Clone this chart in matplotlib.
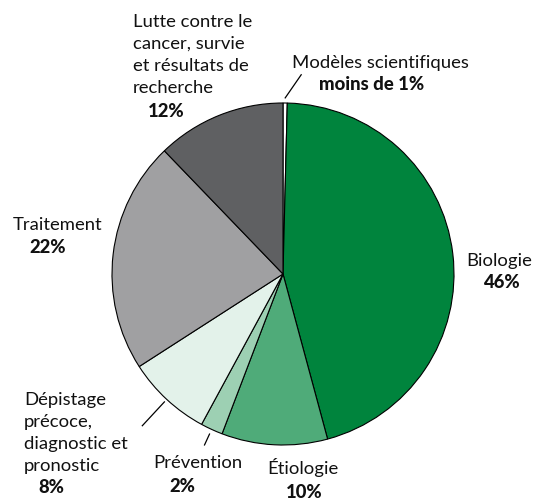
import numpy as np
import matplotlib
matplotlib.use('Agg')
import matplotlib.pyplot as plt

# Parts du financement
categories = ['Modèles scientifiques', 'Biologie', 'Étiologie', 'Prévention',
              'Dépistage précoce, diagnostic et pronostic', 'Traitement',
              'Lutte contre le cancer, survie et résultats de recherche']
parts = [0.4, 45.4, 10.0, 2.1, 8.0, 21.9, 12.2]
etiquettes_pct = ['moins de 1%', '46%', '10%', '2%', '8%', '22%', '12%']
couleurs = ['#ffffff', '#00843d', '#4fab79', '#9dd0b3', '#e3f2ea', '#a0a0a2', '#5f6062']

W, H = 542, 502
fig = plt.figure(figsize=(W / 100, H / 100), dpi=100)
# centre du camembert (283, 275) px, rayon 171 px
cx, cy, r = 283, 275, 171
ax = fig.add_axes([(cx - r) / W, (H - cy - r) / H, 2 * r / W, 2 * r / H])
wedges, _ = ax.pie(parts, colors=couleurs, startangle=90, counterclock=False,
                   radius=1, wedgeprops=dict(edgecolor='black', linewidth=0.8))
ax.set_xlim(-1, 1)
ax.set_ylim(-1, 1)
ax.set_aspect('equal')
ax.axis('off')

police = ['Lato', 'DejaVu Sans']
fs = 13.3

def texte(x, y, s, gras=False, ha='left'):
    # coordonnées en pixels depuis le coin haut-gauche
    fig.text(x / W, 1 - y / H, s, ha=ha, va='baseline', fontsize=fs,
             family=police, weight='black' if gras else 'normal', color='#111111')

# Lutte contre le cancer
for i, ligne in enumerate(['Lutte contre le', 'cancer, survie', 'et résultats de', 'recherche']):
    texte(133, 27 + 22 * i, ligne)
texte(166, 117, etiquettes_pct[6], gras=True, ha='center')

# Modèles scientifiques
texte(380, 68, 'Modèles scientifiques', ha='center')
texte(372, 90, etiquettes_pct[0], gras=True, ha='center')

# Biologie
texte(499, 266, 'Biologie', ha='center')
texte(501, 288, etiquettes_pct[1], gras=True, ha='center')

# Traitement
texte(58, 230, 'Traitement', ha='center')
texte(48, 253, etiquettes_pct[5], gras=True, ha='center')

# Dépistage
for i, ligne in enumerate(['Dépistage', 'précoce,', 'diagnostic et', 'pronostic']):
    texte(24, 405 + 22 * i, ligne)
texte(51, 493, etiquettes_pct[4], gras=True, ha='center')

# Prévention
texte(198, 468, 'Prévention', ha='center')
texte(182, 492, etiquettes_pct[3], gras=True, ha='center')

# Étiologie
texte(303, 474, 'Étiologie', ha='center')
texte(304, 498, etiquettes_pct[2], gras=True, ha='center')

# traits de rappel
def trait(w, r0, r1, decalage=0.0):
    a0 = np.deg2rad((w.theta1 + w.theta2) / 2)
    a1 = a0 + np.deg2rad(decalage)
    ax.plot([r0 * np.cos(a0), r1 * np.cos(a1)], [r0 * np.sin(a0), r1 * np.sin(a1)],
            color='black', lw=0.9, clip_on=False)

trait(wedges[0], 1.03, 1.17, -4.5)
trait(wedges[3], 1.03, 1.10)
trait(wedges[4], 1.02, 1.21)

fig.savefig('out.png', dpi=100)
